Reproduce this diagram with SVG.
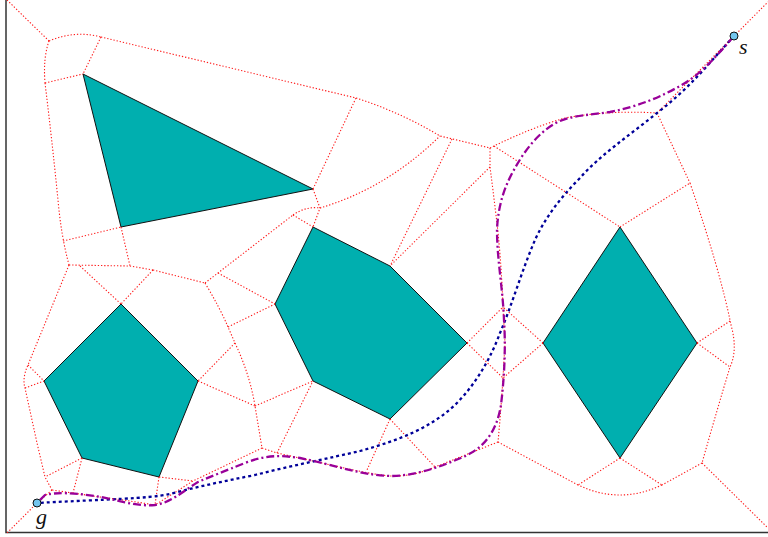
<svg xmlns="http://www.w3.org/2000/svg" width="768" height="537" viewBox="0 0 768 537">
<style>
.obs{fill:#00afaf;stroke:#111;stroke-width:1;stroke-linejoin:miter}
.vor{fill:none;stroke:#ff1a1a;stroke-width:1.1;stroke-dasharray:1.3 1.9}
.pur{fill:none;stroke:#990099;stroke-width:2.3;stroke-dasharray:8 3 2 3;stroke-linejoin:round}
.blu{fill:none;stroke:#000099;stroke-width:2.3;stroke-dasharray:3 3;stroke-linejoin:round}
.pt{fill:#74c5ee;stroke:#111;stroke-width:1}
.lbl{font-family:"Liberation Serif",serif;font-style:italic;font-size:22px;fill:#111}
</style>
<rect width="768" height="537" fill="#fff"/>
<path d="M6 0 V532.5 H768" fill="none" stroke="#333" stroke-width="1.5"/>
<g id="obstacles">
<g id="triangle"><polygon class="obs" points="83,74 313,189 121,227"/></g>
<g id="pentagon"><polygon class="obs" points="121,304 198,381 159,477 82,458 44,381"/></g>
<g id="hexagon"><polygon class="obs" points="313,227 390,266 467,343 390,419 313,381 275,304"/></g>
<g id="diamond"><polygon class="obs" points="620,227 697,343 620,458 543,343"/></g>
</g>
<g id="connectors">
<g id="roadmap">
<path class="vor" d="M7 0 L49 41"/>
<path class="vor" d="M49 41 Q75 30 101 37"/>
<path class="vor" d="M49 41 Q43 58 45 83"/>
<path class="vor" d="M101 37 L83 74"/>
<path class="vor" d="M45 83 L83 74"/>
<path class="vor" d="M101 37 L356 98"/>
<path class="vor" d="M45 83 Q52 140 58 200 Q61 235 69 265"/>
<path class="vor" d="M63 241 L121 227"/>
<path class="vor" d="M121 227 L130 266"/>
<path class="vor" d="M69 265 L130 266 L153 270"/>
<path class="vor" d="M80 266 L121 304"/>
<path class="vor" d="M153 270 L121 304"/>
<path class="vor" d="M153 270 L205 283"/>
<path class="vor" d="M205 283 L293 215"/>
<path class="vor" d="M293 215 L313 227"/>
<path class="vor" d="M293 215 Q306 206 320 208"/>
<path class="vor" d="M313 189 L320 208 L313 227"/>
<path class="vor" d="M313 189 L356 98"/>
<path class="vor" d="M356 98 Q400 112 440 136 L490 148"/>
<path class="vor" d="M320 208 C360 196 400 175 440 136"/>
<path class="vor" d="M452 139 L390 266"/>
<path class="vor" d="M490 167 L390 266"/>
<path class="vor" d="M490 148 L490 167 Q493 190 496 215 Q501 255 503 307 L505 343 L503 378 Q501 410 498 442"/>
<path class="vor" d="M490 148 Q530 128 565 118 Q610 110 657 113"/>
<path class="vor" d="M657 113 L734 36 L768 2"/>
<path class="vor" d="M494 146 L620 227"/>
<path class="vor" d="M657 113 L690 183"/>
<path class="vor" d="M620 227 L690 183"/>
<path class="vor" d="M690 183 Q720 270 731 325 Q738 350 730 367 Q717 410 702 463"/>
<path class="vor" d="M697 343 L730 321"/>
<path class="vor" d="M697 343 L730 367"/>
<path class="vor" d="M702 463 L768 528"/>
<path class="vor" d="M702 463 L662 485"/>
<path class="vor" d="M662 485 Q620 505 578 485"/>
<path class="vor" d="M620 458 L578 485"/>
<path class="vor" d="M620 458 L662 485"/>
<path class="vor" d="M498 442 L578 485"/>
<path class="vor" d="M467 343 L503 307"/>
<path class="vor" d="M467 343 L503 378"/>
<path class="vor" d="M543 343 L503 307"/>
<path class="vor" d="M543 343 L503 378"/>
<path class="vor" d="M498 442 L435 467"/>
<path class="vor" d="M390 419 L435 467"/>
<path class="vor" d="M390 419 L367 470"/>
<path class="vor" d="M435 467 Q412 477 390 476 Q370 474 340 467 L277 453"/>
<path class="vor" d="M277 453 L313 381"/>
<path class="vor" d="M255 406 L313 381"/>
<path class="vor" d="M262 448 L277 453"/>
<path class="vor" d="M205 283 Q220 308 228 327 L235 343 Q250 375 255 406 L262 448"/>
<path class="vor" d="M218 273 L275 304"/>
<path class="vor" d="M228 327 L275 304"/>
<path class="vor" d="M235 343 L198 381"/>
<path class="vor" d="M198 381 L255 406"/>
<path class="vor" d="M262 448 L193 481 L155 505 Q125 500 100 497 L52 490"/>
<path class="vor" d="M159 477 L155 505"/>
<path class="vor" d="M159 477 L193 481"/>
<path class="vor" d="M82 458 L73 493"/>
<path class="vor" d="M82 458 L45 477"/>
<path class="vor" d="M69 265 L30 360 L28 365 Q22 378 25 388 L37 443 L45 477 L52 490"/>
<path class="vor" d="M28 365 L44 381"/>
<path class="vor" d="M25 388 L44 381"/>
<path class="vor" d="M52 490 L37 503 L7 533"/>
</g>
<g id="path-smoothed">
<path class="blu" d="M734 36 C710 62 690 88 657 113 C630 135 600 155 580 178 C560 198 545 218 535 240 C522 270 512 305 500 333 C490 360 475 385 455 405 C430 428 400 440 360 451 C330 458 290 466 255 475 C225 481 200 486 170 494 C145 499 110 499 37 503"/>
</g>
<g id="path-roadmap">
<path class="pur" d="M734 36 C715 58 700 75 680 86 C660 97 640 106 610 112 C590 115 575 115 560 121 C540 130 525 150 515 168 C505 185 498 205 497 230 C497 260 503 290 504 320 C506 350 504 380 501 405 C497 430 485 448 463 457 C440 467 415 476 390 476 C360 475 335 465 300 458 C280 455 265 455 245 463 C225 471 212 476 198 482 C182 492 170 503 155 505 C135 507 115 499 95 496 C75 493 55 492 45 495 L37 503"/>
</g>
</g>
<g id="s"><circle class="pt" cx="734" cy="36" r="4"/><text class="lbl" x="739" y="54">s</text></g>
<g id="g"><circle class="pt" cx="37" cy="503" r="4"/><text class="lbl" x="36" y="524">g</text></g>
</svg>
